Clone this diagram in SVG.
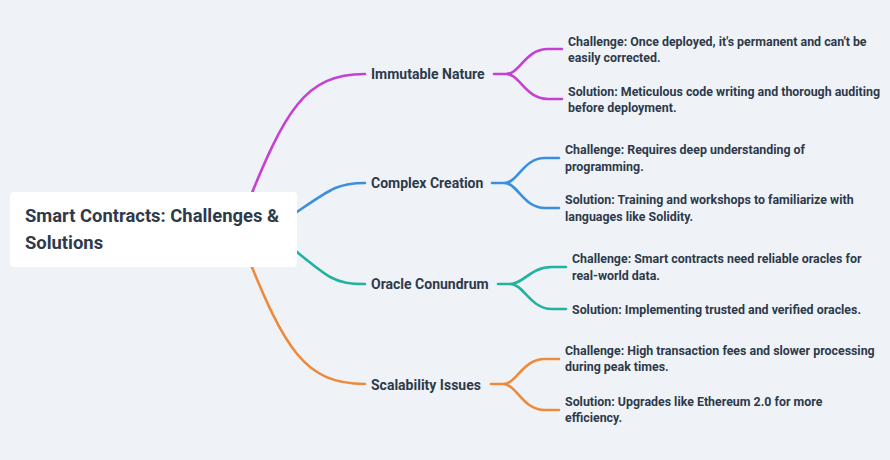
<svg xmlns="http://www.w3.org/2000/svg" width="890" height="460" viewBox="0 0 890 460">
<style>
text{font-family:Roboto,"Liberation Sans",sans-serif;font-weight:700;fill:#2e3a4b}
.root{font-size:18.4px}
.br{font-size:14px}
.lf{font-size:12.4px}
.c{fill:none;stroke-width:2.6;stroke-linecap:round}
.m{stroke:#c641d2}.b{stroke:#3a8fe0}.t{stroke:#22b2a0}.o{stroke:#ed8a3c}
</style>
<rect width="890" height="460" fill="#eff3f7"/>
<g id="connectors">
<path class="c m" d="M245 210 C285 110 305 74 365 74"/>
<path class="c b" d="M285 220 C330 190 335 183 365 183"/>
<path class="c t" d="M285 242 C330 280 335 284 365 284"/>
<path class="c o" d="M245 250 C285 350 305 384 365 384"/>
<path class="c m" d="M494 74 H506 C520 74 525 49 548 49 H562 M506 74 C520 74 525 99 548 99 H562"/>
<path class="c b" d="M492 183 H504 C518 183 523 158 545 158 H559 M504 183 C518 183 523 208 545 208 H559"/>
<path class="c t" d="M498 284 H510 C524 284 530 267 552 267 H566 M510 284 C524 284 530 309 552 309 H566"/>
<path class="c o" d="M491 384 H503 C517 384 522 359 545 359 H559 M503 384 C517 384 522 410 545 410 H559"/>
</g>
<g id="root">
<rect x="10" y="192" width="287" height="75" rx="4" fill="#ffffff"/>
<text class="root" x="25" y="222">Smart Contracts: Challenges &amp;</text>
<text class="root" x="25" y="249">Solutions</text>
</g>
<g id="immutable"><text class="br" x="371" y="79">Immutable Nature</text></g>
<g id="complex"><text class="br" x="371" y="188">Complex Creation</text></g>
<g id="oracle"><text class="br" x="371" y="289">Oracle Conundrum</text></g>
<g id="scalability"><text class="br" x="371" y="390">Scalability Issues</text></g>
<g id="imm-c"><text class="lf" x="568" y="45.5">Challenge: Once deployed, it's permanent and can't be</text><text class="lf" x="568" y="62">easily corrected.</text></g>
<g id="imm-s"><text class="lf" x="568" y="95.5">Solution: Meticulous code writing and thorough auditing</text><text class="lf" x="568" y="112">before deployment.</text></g>
<g id="cmp-c"><text class="lf" x="565" y="154">Challenge: Requires deep understanding of</text><text class="lf" x="565" y="171">programming.</text></g>
<g id="cmp-s"><text class="lf" x="565" y="204">Solution: Training and workshops to familiarize with</text><text class="lf" x="565" y="221">languages like Solidity.</text></g>
<g id="orc-c"><text class="lf" x="572" y="263">Challenge: Smart contracts need reliable oracles for</text><text class="lf" x="572" y="280">real-world data.</text></g>
<g id="orc-s"><text class="lf" x="572" y="314">Solution: Implementing trusted and verified oracles.</text></g>
<g id="scl-c"><text class="lf" x="565" y="355">Challenge: High transaction fees and slower processing</text><text class="lf" x="565" y="371">during peak times.</text></g>
<g id="scl-s"><text class="lf" x="565" y="406">Solution: Upgrades like Ethereum 2.0 for more</text><text class="lf" x="565" y="422">efficiency.</text></g>
</svg>
